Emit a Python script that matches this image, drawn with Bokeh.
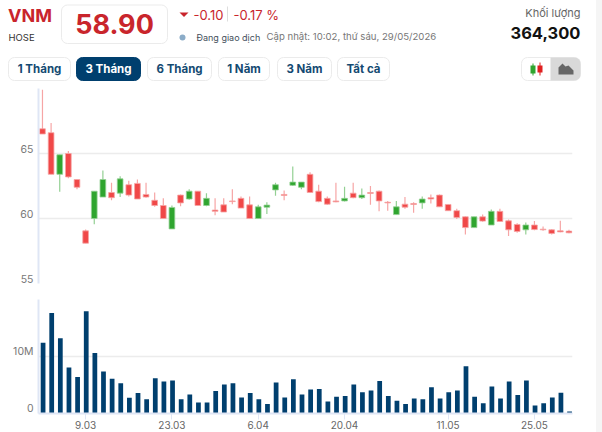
from bokeh.plotting import figure
from bokeh.layouts import column
from bokeh.models import Range1d, FixedTicker
from bokeh.core.properties import value
from bokeh.embed import file_html
from bokeh.resources import INLINE

# ---- data ----
opens = [66.9,66.6,63.4,65.0,63.0,59.05,60.0,61.65,62.0,61.95,62.6,62.7,61.85,61.4,61.0,59.2,61.8,61.5,
         62.1,61.0,60.65,61.05,61.35,61.55,61.05,60.0,60.87,62.2,61.85,62.55,62.4,63.4,62.1,61.55,61.35,61.35,
         61.95,61.6,62.0,62.1,61.25,60.3,61.1,61.15,61.2,61.6,61.8,61.08,60.6,60.13,59.3,60.13,59.5,60.55,
         59.82,59.54,59.13,59.5,59.18,59.13,59.05,59.03]
closes = [66.5,63.4,64.9,63.2,62.4,58.1,62.1,63.0,61.6,63.05,61.8,61.5,61.65,61.0,60.0,60.85,61.2,62.1,
          61.0,61.55,60.55,60.5,61.3,60.8,60.0,60.9,61.03,62.6,61.77,62.8,62.8,62.0,61.3,61.1,61.28,61.55,
          61.6,61.8,61.93,61.35,61.2,60.9,60.87,61.08,61.5,61.5,60.9,60.6,60.08,59.3,60.13,59.8,60.55,59.77,
          59.13,59.0,59.5,59.15,59.13,58.85,58.97,58.9]
highs = [69.9,67.35,64.9,65.2,63.0,59.15,62.1,63.7,62.75,63.25,62.9,63.0,62.75,62.0,61.55,61.0,61.85,62.25,
         62.1,61.95,61.55,61.55,62.25,61.7,61.7,61.05,61.25,62.75,62.15,64.0,62.8,63.55,62.6,61.7,62.75,62.45,
         62.75,62.3,62.5,62.15,61.35,61.35,61.65,61.25,61.7,61.85,61.85,61.08,60.75,60.15,60.13,60.3,60.7,60.75,
         59.92,59.64,59.7,59.8,59.38,59.18,59.82,59.13]
lows = [66.5,63.4,62.05,63.1,62.25,58.1,59.55,61.65,61.4,61.65,61.7,61.5,61.6,60.9,60.0,59.2,60.95,61.45,
        61.0,60.95,60.25,60.5,61.1,60.8,60.0,60.0,60.35,61.75,61.4,62.5,62.25,62.0,61.25,61.05,61.25,61.3,
        61.55,61.5,61.05,60.55,60.6,60.3,60.75,60.45,60.75,61.15,60.9,60.6,59.97,58.77,59.3,59.75,59.5,59.75,
        58.65,58.9,58.77,59.1,59.05,58.77,58.95,58.87]
volumes = [12.4,17.65,13.2,8.06,6.4,17.95,10.6,7.35,6.1,5.3,2.76,3.6,2.5,6.2,5.6,5.8,2.5,3.35,
           1.95,1.95,3.95,5.1,5.3,2.8,3.6,2.5,1.65,5.45,2.8,6.0,3.35,4.2,4.3,2.1,2.95,3.05,
           5.1,3.75,4.05,5.7,3.05,2.25,1.65,2.65,2.5,4.6,2.65,3.75,4.05,8.3,2.95,1.8,4.75,2.65,
           5.6,3.25,5.8,1.4,1.8,2.8,3.65,0.3643]
price_ticks = [65, 60, 55]
price_tick_labels = ["65", "60", "55"]
vol_ticks = [10, 0]
vol_tick_labels = ["10M", "0"]
date_ticks = [5, 15, 25, 35, 47, 57]
date_labels = ["9.03", "23.03", "6.04", "20.04", "11.05", "25.05"]
tabs = ["1 Tháng", "3 Tháng", "6 Tháng", "1 Năm", "3 Năm", "Tất cả"]

# ---- style ----
FONT = value("Inter")
RED = "#c9252c"
NAVY = "#003f6e"
GRID = "#ececec"
AXIS = "#dfe6f5"
UP, UP_W = "#2fa52f", "#93d093"
DOWN, DOWN_W = "#f04848", "#f6a5a5"
X_RANGE = (-0.46, 61.41)
PRICE_LABEL_LIFT = 0.38   # tick labels sit just above their grid line
VOL_LABEL_LIFT = 0.85


def transparent(fig):
    fig.border_fill_color = None
    fig.background_fill_color = None


def style_y_axis(fig, ticks, labels, lift):
    lifted = [round(t + lift, 2) for t in ticks]
    ax = fig.yaxis[0]
    ax.ticker = FixedTicker(ticks=lifted)
    ax.major_label_overrides = dict(zip(lifted, labels))
    ax.major_tick_line_color = None
    ax.minor_tick_line_color = None
    ax.major_tick_in = 0
    ax.major_tick_out = 0
    ax.major_label_standoff = 5
    ax.axis_line_color = AXIS
    ax.axis_line_width = 2
    ax.major_label_text_font = "Inter"
    ax.major_label_text_font_size = "10.5px"
    ax.major_label_text_color = "#777777"


# ---- header ----
h = figure(width=602, height=85, x_range=Range1d(0, 602), y_range=Range1d(85, 0), output_backend="svg",
           toolbar_location=None, min_border=0, outline_line_color=None)
h.axis.visible = False
h.grid.visible = False
transparent(h)


def txt(x, y, s, size, color, style="normal", align="left"):
    h.text([x], [y], text=[s], text_font=FONT, text_font_size=f"{size}px", text_color=color,
           text_font_style=value(style), text_align=align, text_baseline="middle")


def box(l, r, t, b, fill="white", line="#ebebeb", radius=6):
    h.quad(left=[l], right=[r], top=[t], bottom=[b], fill_color=fill, line_color=line, border_radius=radius)


txt(7.5, 15, "VNM", 18, RED, "bold")
txt(8, 37, "HOSE", 9.5, "#333333")
box(61, 167, 4.5, 43)
txt(114, 23, "58.90", 27, RED, "bold", "center")
h.patch([179, 188, 183.5], [12, 12, 16.5], fill_color=RED, line_color=None)
txt(193, 14, "-0.10", 13, RED)
h.segment([227], [6], [227], [21], line_color="#dddddd", line_width=1)
txt(233, 14, "-0.17 %", 13, RED)
h.scatter([182], [37], size=6, fill_color="#8bacc8", line_color=None)
txt(196, 37, "Đang giao dịch", 9, "#44505c")
txt(266, 36, "Cập nhật: 10:02, thứ sáu, 29/05/2026", 9.6, "#777777")
txt(580, 12, "Khối lượng", 11, "#666666", align="right")
txt(580, 32, "364,300", 16.5, "#111111", "bold", "right")

tab_edges = [(8, 70), (76, 140), (147, 211), (218, 269), (277, 331), (337, 389)]
for name, (l, r) in zip(tabs, tab_edges):
    on = name == "3 Tháng"
    box(l, r, 57, 80, fill=NAVY if on else "white", line=NAVY if on else "#ebebeb")
    txt((l + r) / 2, 68.5, name, 11.5, "white" if on else "#144a72", "bold", "center")

box(521, 580, 57, 80)
h.quad(left=[550], right=[580], top=[57], bottom=[80], fill_color="#d9d9d9", line_color=None,
       border_radius=(0, 6, 6, 0))
h.segment([532.5, 539.5], [63, 62], [532.5, 539.5], [75, 75], line_color=["#2fa52f", "#e02020"], line_width=1)
h.quad(left=[530, 537], right=[535, 542], top=[65, 65], bottom=[73, 72], fill_color=["#2fa52f", "#e02020"],
       line_color=None)
h.patch([558, 558, 562, 565, 568, 573, 573], [74, 67, 63, 66, 65, 70, 74], fill_color="#666666", line_color=None)

# ---- price panel ----
idx = list(range(len(opens)))
p = figure(width=602, height=205, x_range=Range1d(*X_RANGE), y_range=Range1d(55, 70), output_backend="svg",
           toolbar_location=None, min_border_left=38, min_border_right=30, min_border_top=3, min_border_bottom=7,
           outline_line_color=None)
transparent(p)
p.xaxis.visible = False
p.xgrid.visible = False
p.ygrid.ticker = FixedTicker(ticks=price_ticks + [70])
p.ygrid.grid_line_color = GRID
p.ygrid.grid_line_width = 1.5
style_y_axis(p, price_ticks, price_tick_labels, PRICE_LABEL_LIFT)

up = [c >= o for o, c in zip(opens, closes)]
p.segment(idx, highs, idx, lows, line_width=1.2,
          line_color=[UP_W if u else DOWN_W for u in up])
p.vbar(x=idx, width=0.66, top=[max(o, c) for o, c in zip(opens, closes)],
       bottom=[min(o, c) for o, c in zip(opens, closes)],
       fill_color=[UP if u else DOWN for u in up], line_color=[UP_W if u else DOWN_W for u in up], line_width=0.8)

# ---- volume panel ----
v = figure(width=602, height=142, x_range=Range1d(*X_RANGE), y_range=Range1d(0, 20), output_backend="svg",
           toolbar_location=None, min_border_left=38, min_border_right=30, min_border_top=9, min_border_bottom=19,
           outline_line_color=None)
transparent(v)
v.xgrid.visible = False
v.ygrid.ticker = FixedTicker(ticks=[10, 20])
v.ygrid.grid_line_color = GRID
v.ygrid.grid_line_width = 1.5
style_y_axis(v, vol_ticks, vol_tick_labels, VOL_LABEL_LIFT)
v.xaxis.ticker = FixedTicker(ticks=date_ticks)
v.xaxis.major_label_overrides = dict(zip(date_ticks, date_labels))
v.xaxis.axis_line_color = AXIS
v.xaxis.axis_line_width = 2
v.xaxis.major_tick_line_color = AXIS
v.xaxis.major_tick_in = 0
v.xaxis.major_tick_out = 6
v.xaxis.minor_tick_line_color = None
v.xaxis.major_label_standoff = 1
v.xaxis.major_label_text_font = "Inter"
v.xaxis.major_label_text_font_size = "10px"
v.xaxis.major_label_text_color = "#666666"

v.vbar(x=[i + 0.07 for i in idx], width=0.55, top=volumes, bottom=0, fill_color=NAVY, line_color=None)

page = column(h, column(p, v, spacing=0), spacing=0,
              styles={"background": "linear-gradient(to right, white 596px, #f5f5f5 596px)"})
open("out.html", "w").write(file_html(page, INLINE))
